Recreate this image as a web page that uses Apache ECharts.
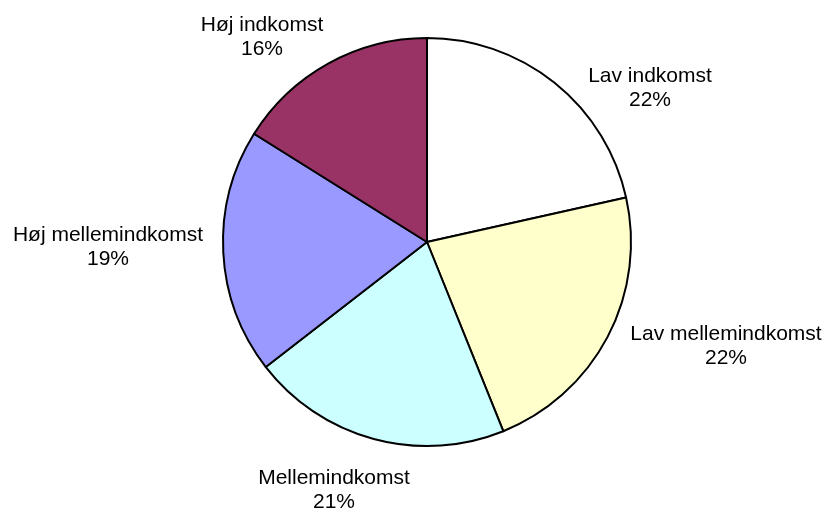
<!DOCTYPE html>
<html>
<head>
<meta charset="utf-8">
<script src="https://cdn.jsdelivr.net/npm/echarts@6/dist/echarts.min.js"></script>
<style>
  html, body { margin: 0; padding: 0; background: #fff; }
  #main { width: 825px; height: 509px; }
</style>
</head>
<body>
<div id="main"></div>
<script>
 (function() {
     // indkomstgrupper
     var categories = ['Lav indkomst', 'Lav mellemindkomst', 'Mellemindkomst', 'Høj mellemindkomst', 'Høj indkomst'];
     var values = [21.5, 22.4, 20.6, 19.4, 16.1];
     var colors = ['#FFFFFF', '#FFFFCC', '#CCFFFF', '#9999FF', '#993366'];

     // label placement (Excel best fit), centre of the text block
     var labelSpots = [[650, 88], [726, 346], [334, 490], [108, 247], [262, 37]];

     var pieData = categories.map(function(name, i) {
         return {
             name: name,
             value: values[i],
             itemStyle: { color: colors[i] }
         };
     });

     var myChart = echarts.init(document.getElementById('main'));
     var option = {
         animation: false,
         series: [{
             type: 'pie',
             center: [427, 242],
             radius: 204,
             startAngle: 90,
             clockwise: true,
             avoidLabelOverlap: false,
             itemStyle: {
                 borderColor: '#000',
                 borderWidth: 2
             },
             label: {
                 show: true,
                 position: 'outside',
                 formatter: function(p) {
                     return p.name + '\n' + Math.round(p.percent) + '%';
                 },
                 fontFamily: 'Liberation Sans, Arial, sans-serif',
                 fontSize: 21,
                 lineHeight: 24,
                 color: '#000'
             },
             labelLine: {
                 show: false
             },
             labelLayout: function(params) {
                 var spot = labelSpots[params.dataIndex];
                 return {
                     x: spot[0],
                     y: spot[1],
                     align: 'center',
                     verticalAlign: 'middle'
                 };
             },
             emphasis: { disabled: true },
             data: pieData
         }]
     };
     myChart.setOption(option);
 })()
</script>
</body>
</html>
